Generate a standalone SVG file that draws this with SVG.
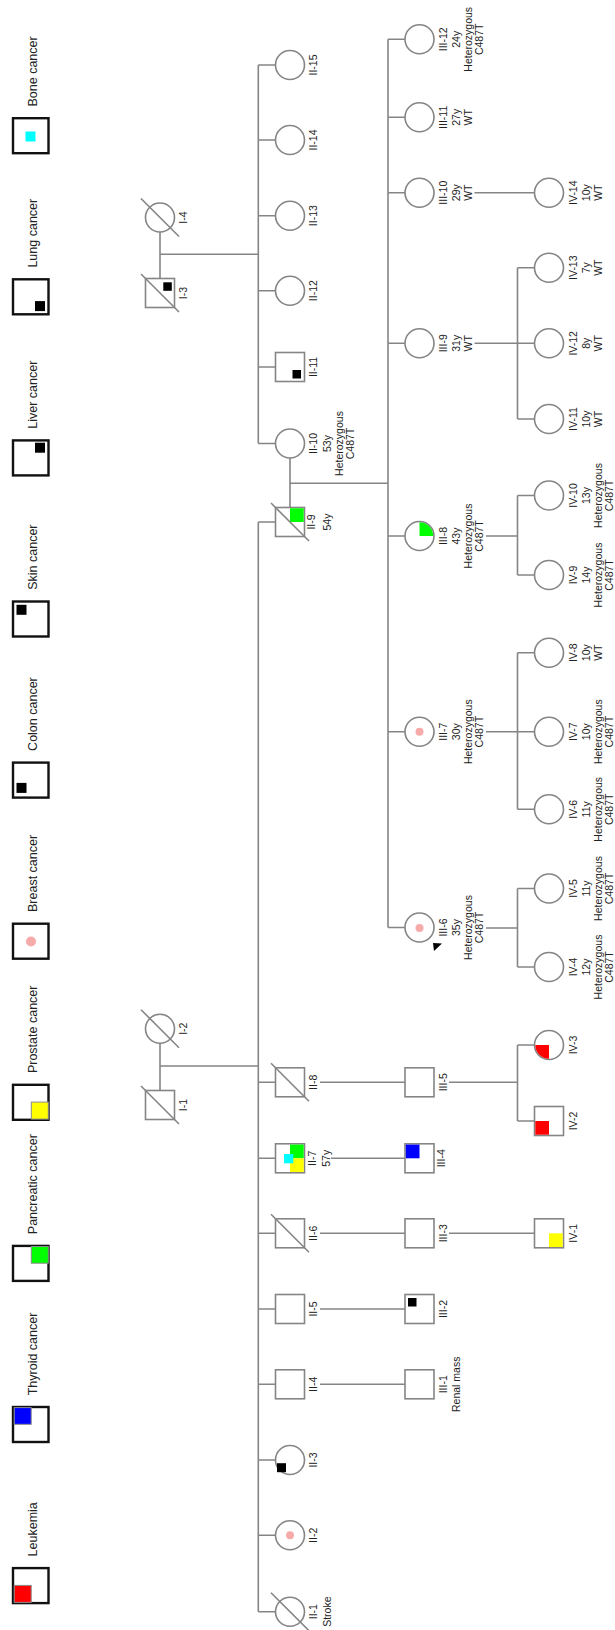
<svg xmlns="http://www.w3.org/2000/svg" width="615" height="1630" viewBox="0 0 615 1630">
<style>
.ln{stroke:#858585;stroke-width:1.6;fill:none}
.nd{stroke:#858585;stroke-width:1.6;fill:#fff}
.dc{stroke:#858585;stroke-width:1.6}
.lb{stroke:#111;stroke-width:2.4;fill:#fff}
.q{stroke:#8a8a8a;stroke-width:1}
.t{font-family:"Liberation Sans",Arial,sans-serif;font-size:10.5px;fill:#222;text-anchor:middle}
.lt{font-family:"Liberation Sans",Arial,sans-serif;font-size:12.5px;fill:#222;text-anchor:start}
.pk{fill:#f7aaaa}
</style>
<rect width="615" height="1630" fill="#fff"/>

<g id="legend">
<g id="leg-bone"><rect class="lb" x="13" y="118.2" width="35.5" height="35"/><rect x="25.5" y="131.5" width="10" height="10" fill="#00ffff"/><text class="lt" transform="translate(37,106.5) rotate(-90)">Bone cancer</text></g>
<g id="leg-lung"><rect class="lb" x="13" y="279.3" width="35.5" height="35"/><rect x="35" y="301.1" width="10" height="10" fill="#000"/><text class="lt" transform="translate(37,267.6) rotate(-90)">Lung cancer</text></g>
<g id="leg-liver"><rect class="lb" x="13" y="440.4" width="35.5" height="35"/><rect x="35" y="442.7" width="10" height="10" fill="#000"/><text class="lt" transform="translate(37,428.7) rotate(-90)">Liver cancer</text></g>
<g id="leg-skin"><rect class="lb" x="13" y="601.5" width="35.5" height="35"/><rect x="16.5" y="604.8" width="10" height="10" fill="#000"/><text class="lt" transform="translate(37,589.8) rotate(-90)">Skin cancer</text></g>
<g id="leg-colon"><rect class="lb" x="13" y="762.6" width="35.5" height="35"/><rect x="16.5" y="782.9" width="10" height="10" fill="#000"/><text class="lt" transform="translate(37,750.9) rotate(-90)">Colon cancer</text></g>
<g id="leg-breast"><rect class="lb" x="13" y="923.7" width="35.5" height="35"/><circle class="pk" cx="31" cy="941.5" r="5"/><text class="lt" transform="translate(37,912) rotate(-90)">Breast cancer</text></g>
<g id="leg-prostate"><rect class="lb" x="13" y="1084.8" width="35.5" height="35"/><rect class="q" x="31.3" y="1102.1" width="17" height="17" fill="#ffff00"/><text class="lt" transform="translate(37,1073.1) rotate(-90)">Prostate cancer</text></g>
<g id="leg-pancreatic"><rect class="lb" x="13" y="1245.9" width="35.5" height="35"/><rect class="q" x="31.3" y="1246.5" width="17" height="16.7" fill="#00ff00"/><text class="lt" transform="translate(37,1234.2) rotate(-90)">Pancreatic cancer</text></g>
<g id="leg-thyroid"><rect class="lb" x="13" y="1407" width="35.5" height="35"/><rect class="q" x="14.2" y="1407.6" width="17" height="16.7" fill="#0000ff"/><text class="lt" transform="translate(37,1395.3) rotate(-90)">Thyroid cancer</text></g>
<g id="leg-leukemia"><rect class="lb" x="13" y="1568.1" width="35.5" height="35"/><rect class="q" x="14.2" y="1585.4" width="17" height="17" fill="#ff0000"/><text class="lt" transform="translate(37,1556.4) rotate(-90)">Leukemia</text></g>
</g>

<g id="connectors" class="ln">
<path d="M160,232 V278.5 M160,254.3 H258.3"/>
<path d="M258.3,65 V443.5 M258.3,65 H275.5 M258.3,140 H275.5 M258.3,215.7 H275.5 M258.3,290.7 H275.5 M258.3,367 H275.5 M258.3,443.5 H275.5"/>
<path d="M160,1043.2 V1090.5 M160,1066 H258.3"/>
<path d="M258.3,522 V1611.7 M258.3,522 H275.5 M258.3,1082.3 H275.5 M258.3,1158.3 H275.5 M258.3,1233.3 H275.5 M258.3,1309 H275.5 M258.3,1384.3 H275.5 M258.3,1460 H275.5 M258.3,1535.3 H275.5 M258.3,1611.7 H275.5"/>
<path d="M290,458 V507.5 M290,483.3 H388"/>
<path d="M388,39.3 V927.5 M388,39.3 H405 M388,117.3 H405 M388,192.7 H405 M388,343.3 H405 M388,536 H405 M388,731.7 H405 M388,927.5 H405"/>
<path d="M320,1082.3 H405 M331,1158.3 H405 M320,1233.3 H405 M320,1309 H405 M320,1384.3 H405"/>
<path d="M474.5,192.7 H534.5"/>
<path d="M474.5,343.3 H517.5 M517.5,267.7 V419 M517.5,267.7 H534.5 M517.5,343.3 H534.5 M517.5,419 H534.5"/>
<path d="M486,536 H517.5 M517.5,495.5 V575 M517.5,495.5 H534.5 M517.5,575 H534.5"/>
<path d="M486,731.7 H517.5 M517.5,652.7 V809.3 M517.5,652.7 H534.5 M517.5,731.7 H534.5 M517.5,809.3 H534.5"/>
<path d="M486,928 H517.5 M517.5,888.5 V967 M517.5,888.5 H534.5 M517.5,967 H534.5"/>
<path d="M449,1082.3 H517.5 M517.5,1045 V1121 M517.5,1045 H534.5 M517.5,1121 H534.5"/>
<path d="M449,1233.3 H534.5"/>
</g>

<!-- Generation I -->
<g id="I-4"><circle class="nd" cx="160" cy="217.5" r="14.5"/><line class="dc" x1="141" y1="198.5" x2="179" y2="236.5"/><text class="t" transform="translate(187,217.5) rotate(-90)">I-4</text></g>
<g id="I-3"><rect class="nd" x="145.5" y="278.5" width="29" height="29"/><rect x="163.3" y="282.3" width="8.5" height="8.5" fill="#000"/><line class="dc" x1="141" y1="274" x2="179" y2="312"/><text class="t" transform="translate(187,293) rotate(-90)">I-3</text></g>
<g id="I-2"><circle class="nd" cx="160" cy="1028.7" r="14.5"/><line class="dc" x1="141" y1="1009.7" x2="179" y2="1047.7"/><text class="t" transform="translate(187,1028.7) rotate(-90)">I-2</text></g>
<g id="I-1"><rect class="nd" x="145.5" y="1090.5" width="29" height="29"/><line class="dc" x1="141" y1="1086" x2="179" y2="1124"/><text class="t" transform="translate(187,1105) rotate(-90)">I-1</text></g>

<!-- Generation II -->
<g id="II-15"><circle class="nd" cx="290" cy="65" r="14.5"/><text class="t" transform="translate(317,65) rotate(-90)">II-15</text></g>
<g id="II-14"><circle class="nd" cx="290" cy="140" r="14.5"/><text class="t" transform="translate(317,140) rotate(-90)">II-14</text></g>
<g id="II-13"><circle class="nd" cx="290" cy="215.7" r="14.5"/><text class="t" transform="translate(317,215.7) rotate(-90)">II-13</text></g>
<g id="II-12"><circle class="nd" cx="290" cy="290.7" r="14.5"/><text class="t" transform="translate(317,290.7) rotate(-90)">II-12</text></g>
<g id="II-11"><rect class="nd" x="275.5" y="352.5" width="29" height="29"/><rect x="292.5" y="370" width="8.5" height="8.5" fill="#000"/><text class="t" transform="translate(317,367) rotate(-90)">II-11</text></g>
<g id="II-10"><circle class="nd" cx="290" cy="443.5" r="14.5"/><text class="t" transform="translate(317,443.5) rotate(-90)">II-10</text><text class="t" transform="translate(330.5,443.5) rotate(-90)">53y</text><text class="t" transform="translate(342.7,443.5) rotate(-90)">Heterozygous</text><text class="t" transform="translate(353.7,443.5) rotate(-90)">C487T</text></g>
<g id="II-9"><rect class="nd" x="275.5" y="507.5" width="29" height="29"/><rect x="290" y="508.3" width="13.7" height="13.7" fill="#00ff00"/><line class="dc" x1="271" y1="503" x2="309" y2="541"/><text class="t" transform="translate(315,522) rotate(-90)">II-9</text><text class="t" transform="translate(330.5,522) rotate(-90)">54y</text></g>
<g id="II-8"><rect class="nd" x="275.5" y="1067.8" width="29" height="29"/><line class="dc" x1="271" y1="1063.3" x2="309" y2="1101.3"/><text class="t" transform="translate(317,1082.3) rotate(-90)">II-8</text></g>
<g id="II-7"><rect class="nd" x="275.5" y="1143.8" width="29" height="29"/><rect x="290" y="1144.6" width="13.7" height="13.7" fill="#00ff00"/><rect x="290" y="1158.3" width="13.7" height="13.7" fill="#ffff00"/><rect x="284" y="1154" width="9.3" height="9.3" fill="#00ffff"/><text class="t" transform="translate(316,1158.3) rotate(-90)">II-7</text><text class="t" transform="translate(329.5,1158.3) rotate(-90)">57y</text></g>
<g id="II-6"><rect class="nd" x="275.5" y="1218.8" width="29" height="29"/><line class="dc" x1="271" y1="1214.3" x2="309" y2="1252.3"/><text class="t" transform="translate(317,1233.3) rotate(-90)">II-6</text></g>
<g id="II-5"><rect class="nd" x="275.5" y="1294.5" width="29" height="29"/><text class="t" transform="translate(317,1309) rotate(-90)">II-5</text></g>
<g id="II-4"><rect class="nd" x="275.5" y="1369.8" width="29" height="29"/><text class="t" transform="translate(317,1384.3) rotate(-90)">II-4</text></g>
<g id="II-3"><circle class="nd" cx="290" cy="1460" r="14.5"/><rect x="277" y="1463.2" width="9" height="9" fill="#000"/><text class="t" transform="translate(317,1460) rotate(-90)">II-3</text></g>
<g id="II-2"><circle class="nd" cx="290" cy="1535.3" r="14.5"/><circle class="pk" cx="290" cy="1535.3" r="4"/><text class="t" transform="translate(317,1535.3) rotate(-90)">II-2</text></g>
<g id="II-1"><circle class="nd" cx="290" cy="1611.7" r="14.5"/><line class="dc" x1="271" y1="1592.7" x2="309" y2="1630.7"/><text class="t" transform="translate(317,1611.7) rotate(-90)">II-1</text><text class="t" transform="translate(330.5,1611.7) rotate(-90)">Stroke</text></g>

<!-- Generation III -->
<g id="III-12"><circle class="nd" cx="419.5" cy="39.3" r="14.5"/><text class="t" transform="translate(446.5,39.3) rotate(-90)">III-12</text><text class="t" transform="translate(460,39.3) rotate(-90)">24y</text><text class="t" transform="translate(472.2,39.3) rotate(-90)">Heterozygous</text><text class="t" transform="translate(483.2,39.3) rotate(-90)">C487T</text></g>
<g id="III-11"><circle class="nd" cx="419.5" cy="117.3" r="14.5"/><text class="t" transform="translate(446.5,117.3) rotate(-90)">III-11</text><text class="t" transform="translate(460,117.3) rotate(-90)">27y</text><text class="t" transform="translate(472.2,117.3) rotate(-90)">WT</text></g>
<g id="III-10"><circle class="nd" cx="419.5" cy="192.7" r="14.5"/><text class="t" transform="translate(446.5,192.7) rotate(-90)">III-10</text><text class="t" transform="translate(460,192.7) rotate(-90)">29y</text><text class="t" transform="translate(472.2,192.7) rotate(-90)">WT</text></g>
<g id="III-9"><circle class="nd" cx="419.5" cy="343.3" r="14.5"/><text class="t" transform="translate(446.5,343.3) rotate(-90)">III-9</text><text class="t" transform="translate(460,343.3) rotate(-90)">31y</text><text class="t" transform="translate(472.2,343.3) rotate(-90)">WT</text></g>
<g id="III-8"><circle class="nd" cx="419.5" cy="536" r="14.5"/><path d="M419.5,536 V522.3 A13.7,13.7 0 0 1 433.2,536 Z" fill="#00ff00"/><text class="t" transform="translate(446.5,536) rotate(-90)">III-8</text><text class="t" transform="translate(460,536) rotate(-90)">43y</text><text class="t" transform="translate(472.2,536) rotate(-90)">Heterozygous</text><text class="t" transform="translate(483.2,536) rotate(-90)">C487T</text></g>
<g id="III-7"><circle class="nd" cx="419.5" cy="731.7" r="14.5"/><circle class="pk" cx="419.5" cy="731.7" r="4"/><text class="t" transform="translate(446.5,731.7) rotate(-90)">III-7</text><text class="t" transform="translate(460,731.7) rotate(-90)">30y</text><text class="t" transform="translate(472.2,731.7) rotate(-90)">Heterozygous</text><text class="t" transform="translate(483.2,731.7) rotate(-90)">C487T</text></g>
<g id="III-6"><circle class="nd" cx="419.5" cy="927.5" r="14.5"/><circle class="pk" cx="419.5" cy="928" r="4"/><polygon points="433,943 442,943.5 434,951" fill="#000"/><text class="t" transform="translate(446.5,927.5) rotate(-90)">III-6</text><text class="t" transform="translate(460,927.5) rotate(-90)">35y</text><text class="t" transform="translate(472.2,927.5) rotate(-90)">Heterozygous</text><text class="t" transform="translate(483.2,927.5) rotate(-90)">C487T</text></g>
<g id="III-5"><rect class="nd" x="405" y="1067.8" width="29" height="29"/><text class="t" transform="translate(446.5,1082.3) rotate(-90)">III-5</text></g>
<g id="III-4"><rect class="nd" x="405" y="1143.8" width="29" height="29"/><rect x="405.8" y="1144.6" width="13.7" height="13.7" fill="#0000ff"/><text class="t" transform="translate(445,1158.3) rotate(-90)">III-4</text></g>
<g id="III-3"><rect class="nd" x="405" y="1218.8" width="29" height="29"/><text class="t" transform="translate(446.5,1233.3) rotate(-90)">III-3</text></g>
<g id="III-2"><rect class="nd" x="405" y="1294.5" width="29" height="29"/><rect x="408" y="1298" width="8.5" height="8.5" fill="#000"/><text class="t" transform="translate(446.5,1309) rotate(-90)">III-2</text></g>
<g id="III-1"><rect class="nd" x="405" y="1369.8" width="29" height="29"/><text class="t" transform="translate(446.5,1384.3) rotate(-90)">III-1</text><text class="t" transform="translate(460,1384.3) rotate(-90)">Renal mass</text></g>

<!-- Generation IV -->
<g id="IV-14"><circle class="nd" cx="549" cy="192.7" r="14.5"/><text class="t" transform="translate(577,192.7) rotate(-90)">IV-14</text><text class="t" transform="translate(589.5,192.7) rotate(-90)">10y</text><text class="t" transform="translate(601.7,192.7) rotate(-90)">WT</text></g>
<g id="IV-13"><circle class="nd" cx="549" cy="267.7" r="14.5"/><text class="t" transform="translate(577,267.7) rotate(-90)">IV-13</text><text class="t" transform="translate(589.5,267.7) rotate(-90)">7y</text><text class="t" transform="translate(601.7,267.7) rotate(-90)">WT</text></g>
<g id="IV-12"><circle class="nd" cx="549" cy="343.3" r="14.5"/><text class="t" transform="translate(577,343.3) rotate(-90)">IV-12</text><text class="t" transform="translate(589.5,343.3) rotate(-90)">8y</text><text class="t" transform="translate(601.7,343.3) rotate(-90)">WT</text></g>
<g id="IV-11"><circle class="nd" cx="549" cy="419" r="14.5"/><text class="t" transform="translate(577,419) rotate(-90)">IV-11</text><text class="t" transform="translate(589.5,419) rotate(-90)">10y</text><text class="t" transform="translate(601.7,419) rotate(-90)">WT</text></g>
<g id="IV-10"><circle class="nd" cx="549" cy="495.5" r="14.5"/><text class="t" transform="translate(577,495.5) rotate(-90)">IV-10</text><text class="t" transform="translate(589.5,495.5) rotate(-90)">13y</text><text class="t" transform="translate(601.7,495.5) rotate(-90)">Heterozygous</text><text class="t" transform="translate(612.7,495.5) rotate(-90)">C487T</text></g>
<g id="IV-9"><circle class="nd" cx="549" cy="575" r="14.5"/><text class="t" transform="translate(577,575) rotate(-90)">IV-9</text><text class="t" transform="translate(589.5,575) rotate(-90)">14y</text><text class="t" transform="translate(601.7,575) rotate(-90)">Heterozygous</text><text class="t" transform="translate(612.7,575) rotate(-90)">C487T</text></g>
<g id="IV-8"><circle class="nd" cx="549" cy="652.7" r="14.5"/><text class="t" transform="translate(577,652.7) rotate(-90)">IV-8</text><text class="t" transform="translate(589.5,652.7) rotate(-90)">10y</text><text class="t" transform="translate(601.7,652.7) rotate(-90)">WT</text></g>
<g id="IV-7"><circle class="nd" cx="549" cy="731.7" r="14.5"/><text class="t" transform="translate(577,731.7) rotate(-90)">IV-7</text><text class="t" transform="translate(589.5,731.7) rotate(-90)">10y</text><text class="t" transform="translate(601.7,731.7) rotate(-90)">Heterozygous</text><text class="t" transform="translate(612.7,731.7) rotate(-90)">C487T</text></g>
<g id="IV-6"><circle class="nd" cx="549" cy="809.3" r="14.5"/><text class="t" transform="translate(577,809.3) rotate(-90)">IV-6</text><text class="t" transform="translate(589.5,809.3) rotate(-90)">11y</text><text class="t" transform="translate(601.7,809.3) rotate(-90)">Heterozygous</text><text class="t" transform="translate(612.7,809.3) rotate(-90)">C487T</text></g>
<g id="IV-5"><circle class="nd" cx="549" cy="888.5" r="14.5"/><text class="t" transform="translate(577,888.5) rotate(-90)">IV-5</text><text class="t" transform="translate(589.5,888.5) rotate(-90)">11y</text><text class="t" transform="translate(601.7,888.5) rotate(-90)">Heterozygous</text><text class="t" transform="translate(612.7,888.5) rotate(-90)">C487T</text></g>
<g id="IV-4"><circle class="nd" cx="549" cy="967" r="14.5"/><text class="t" transform="translate(577,967) rotate(-90)">IV-4</text><text class="t" transform="translate(589.5,967) rotate(-90)">12y</text><text class="t" transform="translate(601.7,967) rotate(-90)">Heterozygous</text><text class="t" transform="translate(612.7,967) rotate(-90)">C487T</text></g>
<g id="IV-3"><circle class="nd" cx="549" cy="1045" r="14.5"/><path d="M549,1045 V1058.7 A13.7,13.7 0 0 1 535.3,1045 Z" fill="#ff0000"/><text class="t" transform="translate(577,1045) rotate(-90)">IV-3</text></g>
<g id="IV-2"><rect class="nd" x="534.5" y="1106.5" width="29" height="29"/><rect x="535.3" y="1121" width="13.7" height="13.7" fill="#ff0000"/><text class="t" transform="translate(577,1121) rotate(-90)">IV-2</text></g>
<g id="IV-1"><rect class="nd" x="534.5" y="1218.8" width="29" height="29"/><rect x="549" y="1233.3" width="13.7" height="13.7" fill="#ffff00"/><text class="t" transform="translate(577,1233.3) rotate(-90)">IV-1</text></g>
</svg>
